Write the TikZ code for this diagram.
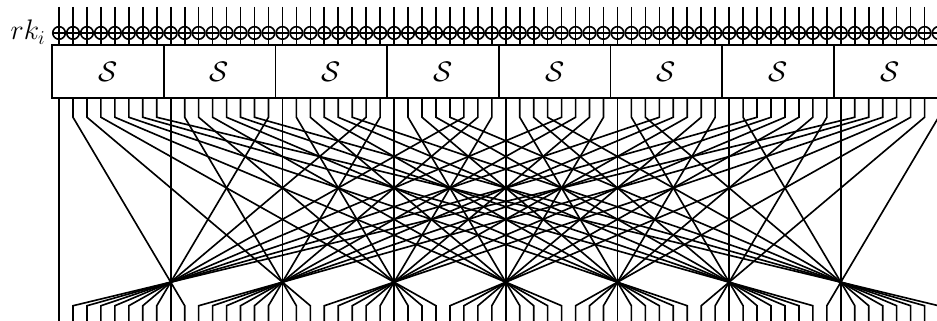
\documentclass[tikz,border=0pt]{standalone}
\usepackage{amsmath,amssymb}
\usepackage{tikz}
\usetikzlibrary{calc}

\tikzset{
  fil/.style={line width=1pt},
  xorbit/.style={circle, draw, line width=1pt, minimum size=0.27cm, inner sep=0pt,
    path picture={\draw[line width=1pt] (path picture bounding box.west) -- (path picture bounding box.east)
      (path picture bounding box.north) -- (path picture bounding box.south);}},
  sbox/.style={draw, line width=1pt, minimum width=2.4cm, minimum height=1.14cm, inner sep=0pt,
    font=\fontsize{19}{22}\selectfont}
}

\begin{document}
\begin{tikzpicture}[x=0.3cm, y=0.3cm]
    % Cadre
    \useasboundingbox (-4.23,0) rectangle (62.89,-22.99);
    \clip (-4.23,0) rectangle (62.89,-22.99);

    % Boites S
    \foreach \k in {0,...,7} {
        \node[sbox] (S\k) at (8*\k+3.5,-5.12) {$\mathcal{S}$};
    }

    % Cle de tour
    \node[anchor=east, font=\LARGE] (rk) at (-0.55,-2.3) {$rk_i$};

    % Entrees et XOR
    \foreach \i in {0,...,63} {
        \coordinate (h\i) at (\i,-0.5);
        \node[xorbit] (x\i) at (\i,-2.36) {};
        \coordinate (e\i) at (\i,-3.22);
        \draw[fil] (h\i) -- (x\i) -- (e\i);
    }

    % Permutation des bits
    \foreach \i [evaluate=\i as \sortie using {int(mod(9*\i,64))}] in {0,...,63} {
        \coordinate (s\i) at (\i,-7.02);
        \coordinate (a\i) at (\i,-8.4);
        \coordinate (b\i) at (\sortie,-21.9);
        \coordinate (f\i) at (\sortie,-23.5);
        \draw[fil] (s\i) -- (a\i) -- (b\i) -- (f\i);
    }
\end{tikzpicture}
\end{document}
